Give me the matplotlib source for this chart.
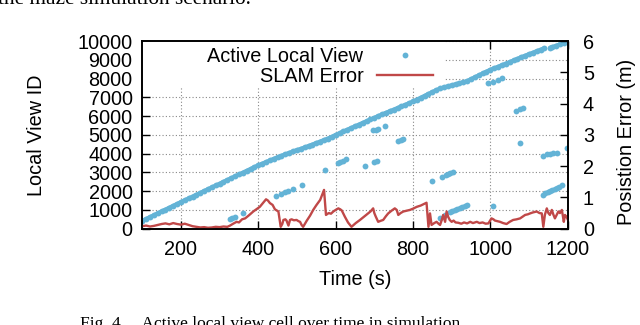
import numpy as np
import matplotlib
matplotlib.use('Agg')
import matplotlib.pyplot as plt
from matplotlib.lines import Line2D
from matplotlib.patches import Rectangle

plt.rcParams['font.family'] = ['Liberation Sans', 'DejaVu Sans']

blue = '#63b3d6'
red = '#c04848'

# main run of active local view cells (every 10 s, gap near 1145 s)
t_main = [100, 110, 120, 130, 140, 150, 160, 170, 180, 190,
          200, 210, 220, 230, 240, 250, 260, 270, 280, 290,
          300, 310, 320, 330, 340, 350, 360, 370, 380, 390,
          400, 410, 420, 430, 440, 450, 460, 470, 480, 490,
          500, 510, 520, 530, 540, 550, 560, 570, 580, 590,
          600, 610, 620, 630, 640, 650, 660, 670, 680, 690,
          700, 710, 720, 730, 740, 750, 760, 770, 780, 790,
          800, 810, 820, 830, 840, 850, 860, 870, 880, 890,
          900, 910, 920, 930, 940, 950, 960, 970, 980, 990,
          1000, 1010, 1020, 1030, 1040, 1050, 1060, 1070, 1080, 1090,
          1100, 1110, 1120, 1130, 1140,
          1155, 1160, 1170, 1180, 1190, 1200]
id_main = [420, 520, 620, 720, 820, 920, 1020, 1120, 1220, 1320,
           1420, 1518, 1616, 1714, 1812, 1910, 2008, 2106, 2204, 2302,
           2400, 2498, 2596, 2694, 2792, 2890, 2988, 3086, 3184, 3282,
           3380, 3466, 3551, 3637, 3723, 3809, 3890, 3966, 4043, 4120,
           4190, 4258, 4330, 4408, 4486, 4565, 4645, 4725, 4805, 4895,
           5000, 5091, 5182, 5273, 5365, 5456, 5547, 5640, 5730, 5820,
           5910, 6000, 6090, 6175, 6260, 6345, 6430, 6515, 6600, 6690,
           6780, 6880, 6980, 7080, 7180, 7280, 7380, 7470, 7530, 7585,
           7640, 7695, 7750, 7810, 7870, 7970, 8070, 8170, 8270, 8370,
           8470, 8550, 8630, 8715, 8800, 8880, 8965, 9050, 9140, 9220,
           9300, 9380, 9460, 9540, 9620,
           9650, 9680, 9750, 9820, 9890, 9950]

# re-activated older cells (loop closures)
t_revisit = [327, 333, 340, 360,
             446, 460, 470, 478, 490, 512,
             572,
             605, 612, 620, 628,
             676, 700, 706,
             696, 704, 710, 728,
             762, 768, 775,
             848,
             870, 883, 896, 902, 909, 915, 922, 928, 935, 940,
             874, 885, 891, 897, 903,
             995, 1008, 1020, 1029,
             1008,
             1066, 1078, 1085,
             1078,
             1137, 1146, 1154, 1163, 1172,
             1135, 1142, 1148, 1154, 1160, 1166, 1172, 1178, 1185,
             1197]
id_revisit = [500, 550, 610, 825,
              1720, 1830, 1940, 2020, 2120, 2350,
              3140,
              3500, 3560, 3620, 3690,
              3360, 3580, 3630,
              5250, 5280, 5325, 5460,
              4660, 4720, 4800,
              2550,
              560, 734, 880, 940, 990, 1040, 1093, 1160, 1232, 1270,
              2750, 2850, 2914, 2960, 3000,
              7740, 7820, 7930, 8020,
              1220,
              6270, 6380, 6450,
              4570,
              3860, 3960, 3990, 4020, 4050,
              1800, 1880, 1960, 2000, 2060, 2110, 2160, 2230, 2330,
              4300]

# SLAM position error (m)
t_err = [100, 110, 120, 130, 140, 150, 160, 170, 180, 190, 200, 210, 220,
         230, 240, 250, 260, 270, 280, 290, 300, 310, 320, 327, 335, 344,
         350, 358, 366, 375, 387, 395, 404, 412, 420, 425, 430, 437, 443,
         452, 458, 462, 465, 470, 473, 478, 482, 486, 492, 499, 504, 508,
         512, 516, 525, 534, 542, 550, 560, 570, 575, 582, 588, 594, 600,
         607, 612, 616, 620, 624, 632, 641, 652, 663, 673, 684, 690, 697,
         700, 704, 710, 716, 723, 730, 736, 745, 753, 758, 762, 768, 775,
         785, 792, 800, 810, 820, 835, 840, 844, 848, 855, 861, 866, 870,
         875, 878, 883, 887, 891, 895, 900, 905, 910, 917, 925, 932, 940,
         948, 955, 965, 972, 980, 988, 995, 1003, 1008, 1012, 1018, 1025,
         1033, 1042, 1050, 1059, 1068, 1077, 1083, 1090, 1097, 1103, 1110,
         1120, 1127, 1133, 1137, 1141, 1146, 1150, 1154, 1159, 1163, 1167,
         1172, 1176, 1180, 1185, 1190, 1193, 1197, 1200]
err = [0.08, 0.10, 0.07, 0.09, 0.12, 0.15, 0.17, 0.14, 0.18, 0.15, 0.13, 0.16, 0.12,
       0.08, 0.06, 0.04, 0.05, 0.03, 0.04, 0.06, 0.05, 0.07, 0.06, 0.10, 0.16, 0.22,
       0.20, 0.30, 0.33, 0.42, 0.55, 0.62, 0.70, 0.82, 0.94, 0.90, 0.82, 0.76, 0.62,
       0.55, 0.06, 0.15, 0.28, 0.30, 0.26, 0.10, 0.28, 0.30, 0.27, 0.28, 0.24, 0.22,
       0.12, 0.06, 0.25, 0.42, 0.60, 0.75, 0.92, 1.24, 0.44, 0.50, 0.48, 0.55, 0.60,
       0.65, 0.62, 0.58, 0.48, 0.38, 0.20, 0.06, 0.18, 0.28, 0.38, 0.49, 0.55, 0.65,
       0.50, 0.38, 0.22, 0.25, 0.28, 0.40, 0.49, 0.58, 0.65, 0.60, 0.44, 0.50, 0.55,
       0.58, 0.60, 0.64, 0.70, 0.74, 0.83, 0.06, 0.49, 0.12, 0.18, 0.22, 0.16, 0.12,
       0.30, 0.44, 0.22, 0.55, 0.38, 0.28, 0.22, 0.26, 0.20, 0.19, 0.16, 0.20, 0.17,
       0.22, 0.18, 0.22, 0.18, 0.20, 0.16, 0.17, 0.33, 0.30, 0.26, 0.24, 0.22,
       0.18, 0.15, 0.22, 0.28, 0.30, 0.33, 0.38, 0.44, 0.46, 0.49, 0.52,
       0.55, 0.50, 0.49, 0.06, 0.44, 0.65, 0.50, 0.44, 0.60, 0.45, 0.33,
       0.45, 0.55, 0.50, 0.60, 0.22, 0.44, 0.38, 0.30]

fs = 14.3
fig = plt.figure(figsize=(6.4, 3.25), dpi=100)
fig.subplots_adjust(left=0.2223, right=0.887, bottom=0.2963, top=0.8738)
ax = fig.add_subplot(111)
ax2 = ax.twinx()

# dense run of points looks like a solid band; split at the short gap
t_arr = np.array(t_main)
id_arr = np.array(id_main)
for part in (t_arr <= 1140, t_arr >= 1155):
    ax.plot(t_arr[part], id_arr[part], 'o-', color=blue, ms=4.2, mec='none',
            lw=3, solid_capstyle='round')
ax.plot(t_revisit, id_revisit, 'o', color=blue, ms=4.2, mec='none')
ax2.plot(t_err, err, '-', color=red, lw=1.7)

ax.set_xlim(100, 1200)
ax.set_ylim(0, 10000)
ax2.set_ylim(0, 6)
ax.set_xticks(range(200, 1201, 200))
ax.set_yticks(range(0, 10001, 1000))
ax2.set_yticks(range(0, 7))

ax.grid(True, color='#888888', ls=(0, (1, 2)), lw=0.8)
ax.set_axisbelow(True)
# key area is cleared of grid, like gnuplot does
ax.add_patch(Rectangle((0, 0.75), 0.7116, 0.25, transform=ax.transAxes,
                       facecolor='white', edgecolor='none', zorder=0.9))

ax.tick_params(direction='in', length=6, width=1, labelsize=fs, pad=7,
               top=True, right=False)
ax.tick_params(axis='x', pad=8)
ax2.tick_params(direction='in', length=6, width=1, labelsize=fs, pad=11)
for a in (ax, ax2):
    for s in a.spines.values():
        s.set_linewidth(1.2)

ax.set_xlabel('Time (s)', fontsize=fs, va='center')
ax.xaxis.set_label_coords(0.5, -0.273)
ax.set_ylabel('Local View ID', fontsize=fs, va='center')
ax.yaxis.set_label_coords(-0.2475, 0.5)
ax2.set_ylabel('Posistion Error (m)', fontsize=fs, va='center')
ax2.yaxis.set_label_coords(1.139, 0.462)

handles = [Line2D([], [], marker='o', ls='none', color=blue, ms=4.2, mec='none'),
           Line2D([], [], color=red, lw=1.7)]
leg = ax2.legend(handles, ['Active Local View', 'SLAM Error'], loc='upper right',
                 bbox_to_anchor=(0.697, 1.0), markerfirst=False, fontsize=fs,
                 handlelength=2.8, handletextpad=0.7, labelspacing=0.05,
                 borderaxespad=0.0, frameon=False, borderpad=0.3)
for txt in leg.get_texts():
    txt.set_ha('right')

fig.text(-0.003, 1 - 4.5 / 325, 'the maze simulation scenario.',
         family=['Liberation Serif', 'DejaVu Serif'], fontsize=15.3, va='baseline')
fig.text(80 / 640, -0.008, 'Fig. 4.    Active local view cell over time in simulation',
         family=['Liberation Serif', 'DejaVu Serif'], fontsize=12.5, va='baseline')

fig.savefig('out.png', dpi=100)
